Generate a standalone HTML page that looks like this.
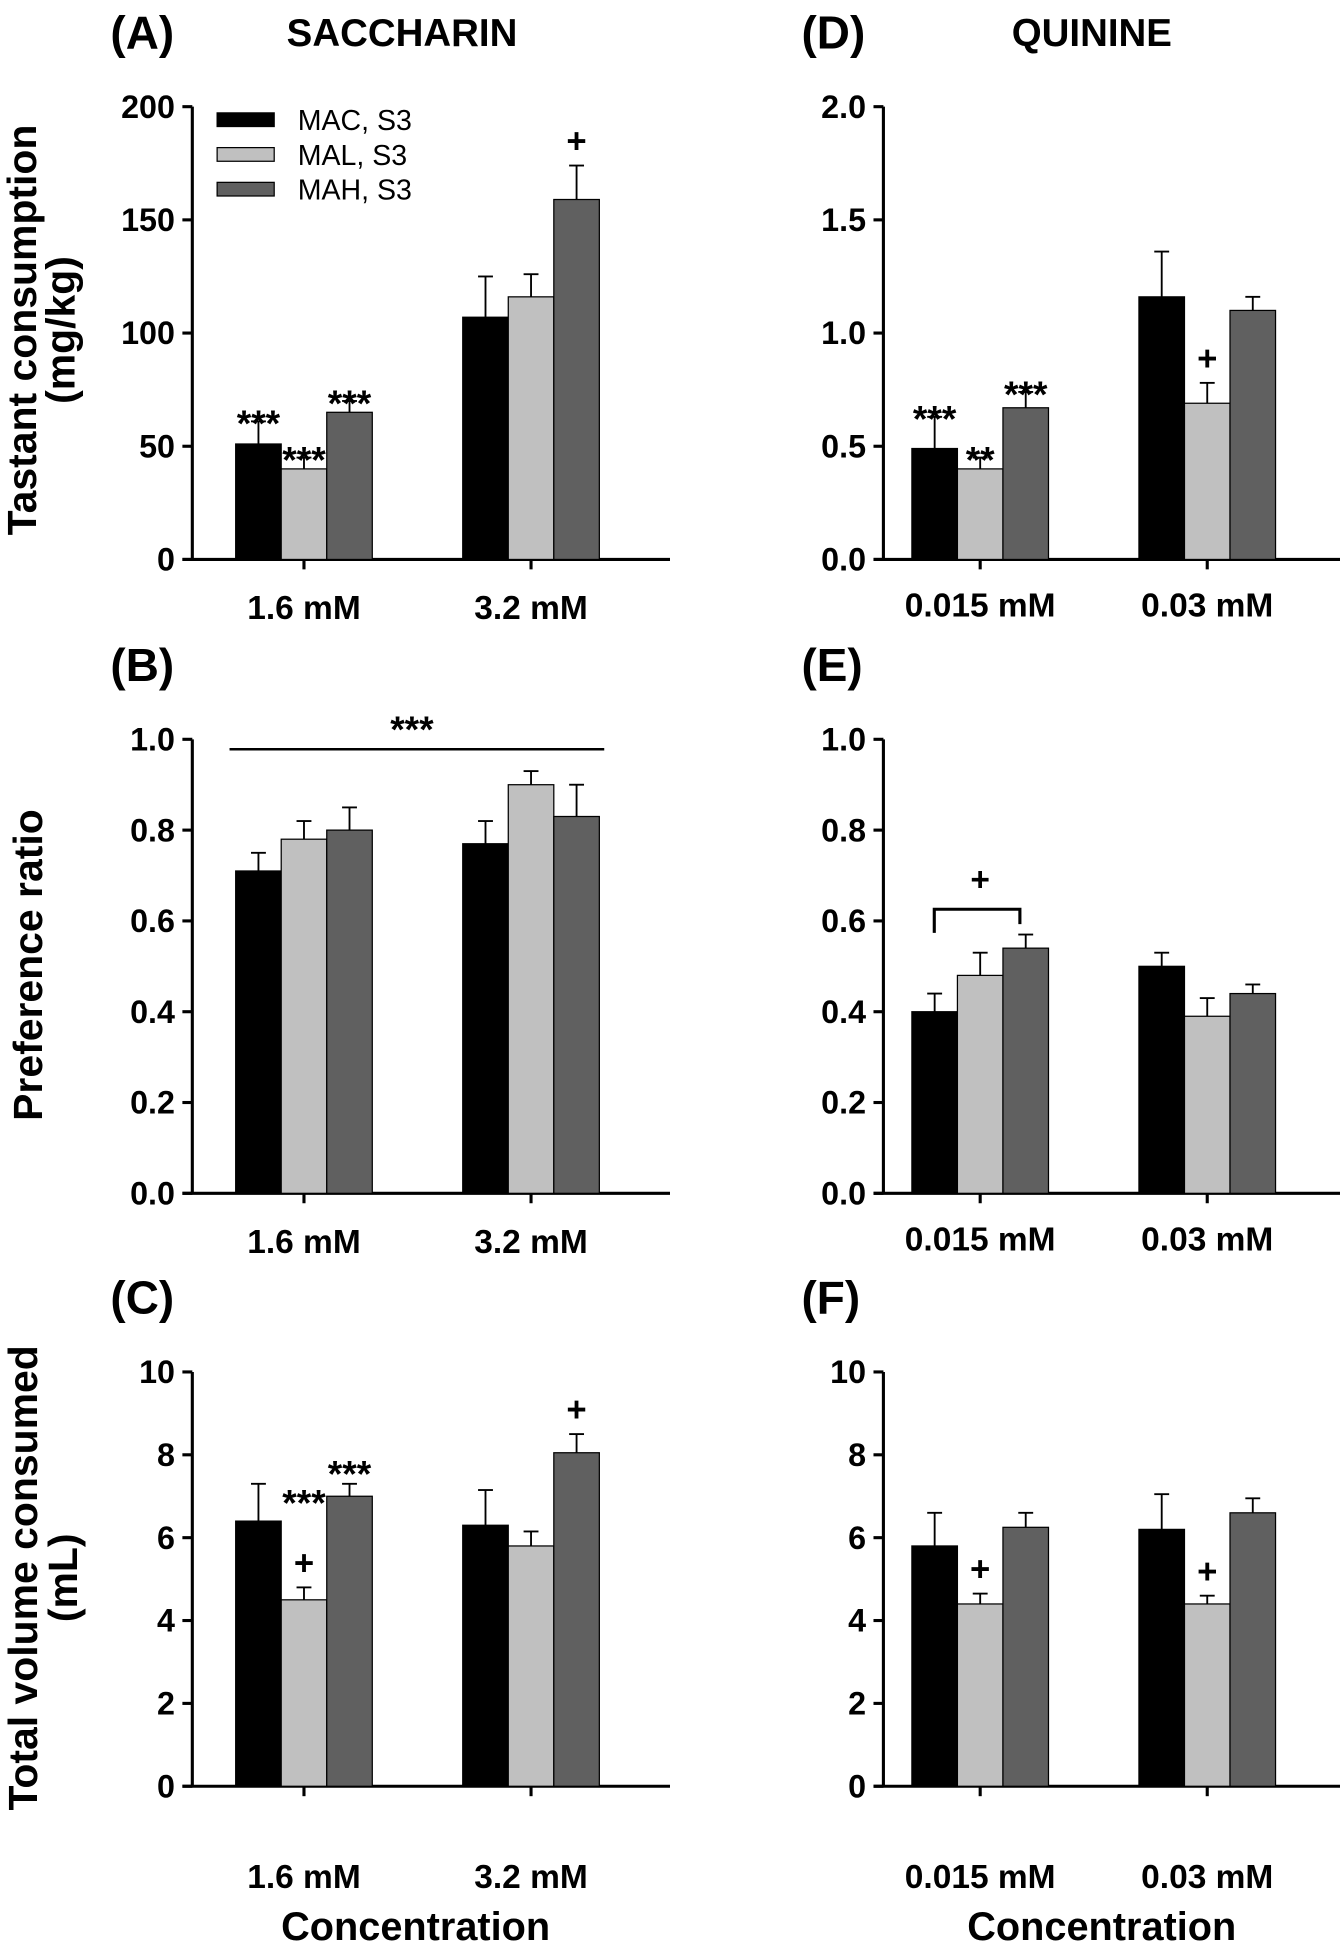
<!DOCTYPE html>
<html><head><meta charset="utf-8"><style>
html,body{margin:0;padding:0;background:#fff}
svg{display:block}
text{font-family:"Liberation Sans",Arial,sans-serif}
</style></head><body>
<svg id="fig" width="1340" height="1950" viewBox="0 0 1080 1572" preserveAspectRatio="none" xmlns="http://www.w3.org/2000/svg"></svg>
<script>
const colors = ['#000000','#c0c0c0','#606060'];
const seriesNames = ['MAC, S3','MAL, S3','MAH, S3'];
const catsSacc = ['1.6 mM','3.2 mM'];
const catsQuin = ['0.015 mM','0.03 mM'];
// Panel A
const aMean = [[51,107],[40,116],[65,159]];
const aErr  = [[61,125],[45,126],[70,174]];
const aTicks = [0,50,100,150,200];
// Panel B
const bMean = [[0.71,0.77],[0.78,0.90],[0.80,0.83]];
const bErr  = [[0.75,0.82],[0.82,0.93],[0.85,0.90]];
const prTicks = [0.0,0.2,0.4,0.6,0.8,1.0];
// Panel C
const cMean = [[6.4,6.3],[4.5,5.8],[7.0,8.05]];
const cErr  = [[7.3,7.15],[4.8,6.15],[7.3,8.5]];
const volTicks = [0,2,4,6,8,10];
// Panel D
const dMean = [[0.49,1.16],[0.40,0.69],[0.67,1.10]];
const dErr  = [[0.63,1.36],[0.45,0.78],[0.74,1.16]];
const dTicks = [0.0,0.5,1.0,1.5,2.0];
// Panel E
const eMean = [[0.40,0.50],[0.48,0.39],[0.54,0.44]];
const eErr  = [[0.44,0.53],[0.53,0.43],[0.57,0.46]];
// Panel F
const fMean = [[5.8,6.2],[4.4,4.4],[6.25,6.6]];
const fErr  = [[6.6,7.05],[4.65,4.6],[6.6,6.95]];
// annotations: [series, category, label, value-at]
const aAnn = [[0,0,'***',61],[1,0,'***',45],[2,0,'***',70],[2,1,'+',174]];
const cAnn = [[1,0,'+',4.8],[1,0,'***',6.9],[2,0,'***',7.6],[2,1,'+',8.5]];
const dAnn = [[0,0,'***',0.63],[1,0,'**',0.45],[2,0,'***',0.74],[1,1,'+',0.78]];
const fAnn = [[1,0,'+',4.65],[1,1,'+',4.6]];

const svg = document.getElementById('fig');
const NS='http://www.w3.org/2000/svg';
function el(tag, attrs, txt){const e=document.createElementNS(NS,tag);for(const k in attrs)e.setAttribute(k,attrs[k]);if(txt!==undefined)e.textContent=txt;svg.appendChild(e);return e;}

function panel(p){
  const yS=v=>p.y0-(v-p.min)/(p.max-p.min)*(p.y0-p.y1);
  const g=p.id;
  let e=el('line',{x1:p.ax,y1:p.y1,x2:p.ax,y2:p.y0+1,stroke:'#000','stroke-width':2.5});
  
  
  e=el('line',{x1:p.ax-8,y1:p.y0,x2:p.ax+385,y2:p.y0,stroke:'#000','stroke-width':2.5});
  
  
  p.ticks.forEach(t=>{
    let l=el('line',{x1:p.ax-8,y1:yS(t),x2:p.ax,y2:yS(t),stroke:'#000','stroke-width':2.5});
    
    
    let tx=el('text',{x:p.ax-14,y:yS(t)+9,'text-anchor':'end','font-size':26,'font-weight':'bold'},p.fmt(t));
    
    
  });
  const bw=36.7;
  p.cats.forEach((c,ci)=>{
    const cx=p.cx[ci];
    let l=el('line',{x1:cx,y1:p.y0,x2:cx,y2:p.y0+8,stroke:'#000','stroke-width':2.5});
    
    
    let tx=el('text',{x:cx,y:p.y0+p.lo,'text-anchor':'middle','font-size':27,'font-weight':'bold'},c);
    
    
    for(let s=0;s<3;s++){
      const x=cx+(s-1.5)*bw, v=p.mean[s][ci], ev=p.err[s][ci];
      const xm=x+bw/2;
      let er=el('line',{x1:xm,y1:yS(v),x2:xm,y2:yS(ev),stroke:'#000','stroke-width':1.5});
      
      
      let cap=el('line',{x1:xm-6,y1:yS(ev),x2:xm+6,y2:yS(ev),stroke:'#000','stroke-width':1.5});
      
      
      let r=el('rect',{x:x,y:yS(v),width:bw,height:p.y0-yS(v),fill:colors[s],stroke:'#000','stroke-width':1});
      
      
    }
  });
  (p.ann||[]).forEach(a=>{
    const x=p.cx[a[1]]+(a[0]-1)*bw;
    const big=a[2]==='+';
    let tx=el('text',{x:x,y:yS(a[3])-(big?10:4)+(big?0:16),'text-anchor':'middle','font-size':big?28:30,'font-weight':'bold'},a[2]);
    
    
  });
  let lb=el('text',{x:p.ax-66,y:p.y1-47,'font-size':37,'font-weight':'bold'},p.label);
  
  
  return yS;
}
const fmt0=t=>String(t), fmt1=t=>t.toFixed(1);
panel({id:'panel-a',ax:155,y0:451,y1:86,min:0,max:200,ticks:aTicks,fmt:fmt0,cats:catsSacc,cx:[245,428],mean:aMean,err:aErr,ann:aAnn,label:'(A)',lo:48});
panel({id:'panel-b',ax:155,y0:962,y1:596,min:0,max:1,ticks:prTicks,fmt:fmt1,cats:catsSacc,cx:[245,428],mean:bMean,err:bErr,label:'(B)',lo:48});
panel({id:'panel-c',ax:155,y0:1440,y1:1106,min:0,max:10,ticks:volTicks,fmt:fmt0,cats:catsSacc,cx:[245,428],mean:cMean,err:cErr,ann:cAnn,label:'(C)',lo:82});
panel({id:'panel-d',ax:712,y0:451,y1:86,min:0,max:2,ticks:dTicks,fmt:fmt1,cats:catsQuin,cx:[790,973],mean:dMean,err:dErr,ann:dAnn,label:'(D)',lo:46});
panel({id:'panel-e',ax:712,y0:962,y1:596,min:0,max:1,ticks:prTicks,fmt:fmt1,cats:catsQuin,cx:[790,973],mean:eMean,err:eErr,label:'(E)',lo:46});
panel({id:'panel-f',ax:712,y0:1440,y1:1106,min:0,max:10,ticks:volTicks,fmt:fmt0,cats:catsQuin,cx:[790,973],mean:fMean,err:fErr,ann:fAnn,label:'(F)',lo:82});

function T(x,y,s,txt,name,extra){const a={x:x,y:y,'font-size':s,'font-weight':'bold','text-anchor':'middle'};Object.assign(a,extra||{});const t=el('text',a,txt);return t;}
let t;
t=T(324,37,31,'SACCHARIN');
t=T(880,37,31,'QUININE');
t=T(0,0,33,'Tastant consumption',0,{transform:'translate(29,266) rotate(-90)'});
t=T(0,0,33,'(mg/kg)',0,{transform:'translate(60,266) rotate(-90)'});
t=T(0,0,33,'Preference ratio',0,{transform:'translate(34,778) rotate(-90)'});
t=T(0,0,33,'Total volume consumed',0,{transform:'translate(30,1272) rotate(-90)'});
t=T(0,0,33,'(mL)',0,{transform:'translate(62,1272) rotate(-90)'});
t=T(335,1564,32,'Concentration');
t=T(888,1564,32,'Concentration');
// B significance line
let ln=el('line',{x1:185,y1:604,x2:487,y2:604,stroke:'#000','stroke-width':2});


t=T(332,598,30,'***');
// E bracket
let br=el('polyline',{points:'753,752 753,733 822,733 822,745',fill:'none',stroke:'#000','stroke-width':2.5});


t=T(790,718,27,'+');
// legend
seriesNames.forEach((n,i)=>{
  const y=91+i*28;
  let r=el('rect',{x:175,y:y,width:46,height:11,fill:colors[i],stroke:'#000','stroke-width':1});
  
  
  let tx=el('text',{x:240,y:y+14,'font-size':23},n);
  
  
});
</script>
</body></html>
